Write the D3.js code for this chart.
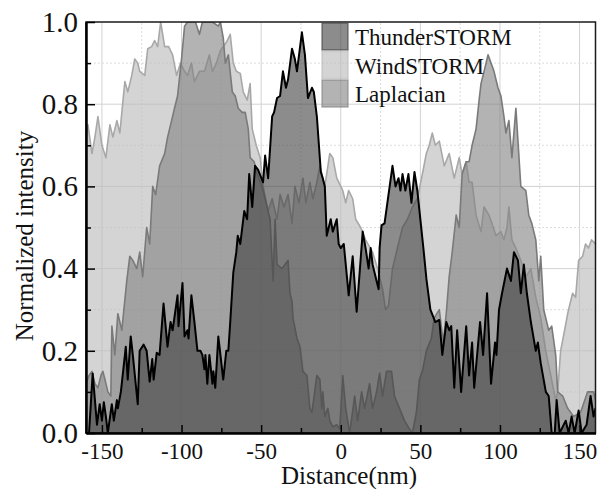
<!DOCTYPE html>
<html lang="en">
<head>
  <meta charset="UTF-8">
  <title>intensity-profile</title>
  <script src="https://cdn.jsdelivr.net/npm/d3@7"></script>
  <style>
    body { margin: 0; background: #fff; }
    text { font-family: "Liberation Serif", "Times New Roman", serif; fill: #111; }
  </style>
</head>
<body>
<script>
// values, [distance in nm, normalized intensity]
let thunderStorm = [[-160,0],[-158.1,0],[-155.8,0.145],[-153.1,0.02],[-151.4,0.07],[-150,0.03],[-148.8,0.075],[-147.5,0.04],[-146.3,0],[-143.8,0.07],[-142.5,0.03],[-140.6,0.08],[-140,0.06],[-138.1,0.1],[-135,0.21],[-133.8,0.13],[-131.9,0.235],[-130.6,0.19],[-127.5,0.07],[-126.3,0.2],[-123.8,0.215],[-121.9,0.2],[-120,0.125],[-118.4,0.18],[-117.5,0.13],[-115.6,0.195],[-113.8,0.19],[-111.3,0.315],[-108.8,0.21],[-106.9,0.27],[-105.6,0.25],[-102.5,0.335],[-101.9,0.26],[-99.4,0.365],[-98.1,0.235],[-96.3,0.25],[-95.6,0.23],[-93.8,0.335],[-91.9,0.27],[-90,0.2],[-88.1,0.2],[-86.9,0.19],[-85.6,0.155],[-85,0.19],[-83.8,0.12],[-82.5,0.19],[-80.6,0.12],[-80,0.15],[-78.8,0.11],[-76.9,0.235],[-73.8,0.13],[-71.9,0.2],[-70.6,0.2],[-69.4,0.27],[-67.5,0.39],[-65.6,0.44],[-64.7,0.48],[-63.1,0.46],[-60.6,0.54],[-58.8,0.52],[-57.5,0.63],[-55.6,0.55],[-53.8,0.65],[-51.9,0.64],[-48.8,0.61],[-47.5,0.675],[-45.6,0.62],[-43.1,0.77],[-41.9,0.78],[-40,0.815],[-38.1,0.82],[-36.3,0.88],[-34.4,0.84],[-33.1,0.86],[-30.6,0.935],[-28.8,0.91],[-27.5,0.88],[-24.4,0.975],[-22.5,0.92],[-20.6,0.815],[-18.1,0.84],[-16.9,0.83],[-15,0.77],[-12.5,0.635],[-11.3,0.62],[-10,0.6],[-8.8,0.48],[-6.3,0.52],[-5,0.49],[-2.5,0.52],[-1.3,0.46],[0,0.45],[1.9,0.46],[5,0.335],[7.5,0.43],[10,0.295],[13.8,0.49],[15.6,0.45],[17.5,0.4],[18.8,0.45],[20,0.41],[22.5,0.37],[23.8,0.35],[24.4,0.45],[25.6,0.505],[27.5,0.51],[30,0.58],[32.5,0.65],[34.4,0.6],[36.3,0.62],[37.5,0.59],[38.8,0.63],[40.6,0.59],[42.5,0.63],[44.4,0.56],[46.3,0.635],[48.1,0.59],[50,0.52],[51.9,0.45],[53.8,0.375],[56.3,0.3],[59.4,0.27],[61.9,0.275],[63.8,0.19],[66.3,0.27],[68.1,0.25],[69.4,0.26],[71.3,0.11],[73.1,0.25],[75.6,0.1],[78.8,0.26],[80.6,0.14],[82.5,0.22],[83.8,0.11],[87.5,0.27],[89.4,0.19],[91.9,0.34],[94.4,0.12],[96.9,0.22],[97.8,0.19],[99.4,0.3],[101.3,0.34],[104.4,0.4],[106.9,0.37],[108.8,0.44],[111.3,0.42],[113.1,0.34],[115,0.41],[116.9,0.34],[119.4,0.27],[122.5,0.2],[123.8,0.22],[125.6,0.17],[128.8,0.1],[130.6,0.09],[132.5,0],[134.4,0],[135.6,0.08],[137.5,0],[141.3,0.03],[143.1,0],[145,0.04],[146.9,0],[149.4,0.055],[151.3,0],[154.4,0.02],[156.9,0.09],[158.8,0.04],[160,0.06]];

let windStorm = [[-160,0.72],[-158.75,0.75],[-156.25,0.68],[-154.4,0.72],[-152.5,0.77],[-150,0.7],[-147.5,0.67],[-145,0.75],[-143.1,0.72],[-140.6,0.76],[-138.75,0.73],[-135.6,0.855],[-133.75,0.83],[-131.25,0.87],[-129.4,0.91],[-127.5,0.9],[-126.25,0.88],[-123.1,0.87],[-121.25,0.935],[-118.75,0.94],[-116.9,0.955],[-115,0.94],[-113.1,1],[-110.6,0.94],[-108.1,0.94],[-105.6,0.92],[-103.1,0.87],[-100.6,0.9],[-98.1,0.88],[-96.25,0.87],[-93.75,0.9],[-91.9,0.855],[-88.75,0.88],[-85.6,0.88],[-82.5,0.92],[-80.6,0.88],[-78.1,0.9],[-75.6,0.93],[-71.9,0.95],[-69.4,0.97],[-67.5,0.9],[-65.6,0.88],[-63.1,0.875],[-61.25,0.83],[-58.75,0.81],[-56.9,0.85],[-55.6,0.74],[-53.1,0.7],[-50.6,0.67],[-48.75,0.6],[-45.6,0.54],[-43.1,0.57],[-40,0.52],[-38.1,0.58],[-35.6,0.55],[-33.1,0.58],[-30.6,0.51],[-28.75,0.6],[-26.25,0.56],[-23.75,0.62],[-21.9,0.56],[-19.4,0.61],[-17.5,0.57],[-15,0.61],[-13.1,0.65],[-10,0.6],[-6.9,0.68],[-5,0.67],[-2.5,0.62],[0,0.6],[1.25,0.59],[3.1,0.56],[5,0.59],[7.5,0.57],[9.4,0.52],[12.5,0.5],[15.6,0.47],[20,0.44],[23.1,0.4],[26.25,0.35],[28.1,0.3],[30,0.31],[32.5,0.4],[35.6,0.45],[38.75,0.5],[41.9,0.52],[45,0.55],[48.1,0.57],[51.25,0.63],[53.75,0.68],[55.6,0.7],[57.5,0.73],[59.4,0.7],[61.9,0.71],[65,0.65],[68.1,0.68],[71.25,0.62],[74.4,0.67],[76.25,0.63],[78.75,0.66],[80.6,0.61],[82.5,0.61],[85,0.53],[88.1,0.49],[90,0.55],[93.1,0.53],[95,0.51],[97.5,0.48],[100.6,0.49],[102.5,0.47],[104.4,0.5],[105.6,0.55],[107.5,0.47],[110,0.45],[113.1,0.42],[116.25,0.38],[119.4,0.4],[122.5,0.33],[125.6,0.28],[128.75,0.2],[131.9,0.14],[135,0.08],[136.25,0.1],[138.1,0.2],[140.6,0.25],[142.5,0.29],[145.6,0.34],[147.5,0.33],[149.4,0.42],[151.9,0.43],[153.75,0.46],[155.6,0.45],[157.5,0.47],[160,0.46]];

let laplacian = [[-160,0.12],[-158.1,0.14],[-156.25,0.15],[-154.4,0.12],[-152.5,0.11],[-150.6,0.14],[-149.4,0.15],[-148.1,0.13],[-146.25,0.1],[-144.4,0.09],[-143.75,0.26],[-141.9,0.19],[-140,0.29],[-137.5,0.25],[-134.4,0.37],[-132.5,0.43],[-130.6,0.42],[-128.1,0.4],[-126.25,0.44],[-124.4,0.38],[-121.9,0.5],[-120,0.46],[-118.1,0.6],[-116.25,0.58],[-113.75,0.65],[-110.6,0.68],[-108.75,0.72],[-106.25,0.76],[-104.4,0.79],[-102.5,0.82],[-100,0.91],[-98.1,0.99],[-96.25,1],[-91.25,1],[-88.75,0.97],[-86.9,1],[-80.6,1],[-76.9,0.99],[-75.6,1],[-73.75,0.96],[-72.5,0.9],[-70.6,0.92],[-68.1,0.83],[-66.25,0.82],[-64.4,0.79],[-61.9,0.78],[-60,0.78],[-58.1,0.74],[-56.9,0.67],[-54.4,0.66],[-52.5,0.63],[-49.4,0.6],[-46.9,0.56],[-44.4,0.52],[-42.5,0.37],[-41.25,0.52],[-40,0.41],[-36.9,0.4],[-35,0.41],[-33.1,0.42],[-31.9,0.34],[-30.6,0.32],[-30,0.28],[-27.5,0.23],[-25.6,0.21],[-23.75,0.15],[-21.25,0.14],[-19.4,0.06],[-18.1,0.05],[-15,0.14],[-13.1,0.13],[-11.9,0.06],[-11.25,0.1],[-10,0.04],[-8.1,0.06],[-6.9,0.03],[-5,0.015],[-2.5,0.02],[-0.6,0.01],[1.25,0.14],[3.1,0.06],[5.6,0],[8.75,0.09],[10.6,0.03],[13.1,0.1],[15,0.06],[18.1,0.12],[20,0.06],[22.5,0.1],[24.4,0.145],[26.25,0.09],[28.75,0.15],[31.9,0.15],[33.75,0.09],[36.9,0.06],[40,0.03],[43.1,0.01],[45,0],[47.5,0.05],[49.4,0.13],[51.25,0.15],[53.75,0.2],[56.9,0.23],[58.75,0.28],[61.9,0.3],[64.4,0.22],[66.25,0.29],[68.1,0.38],[70,0.44],[72.5,0.53],[74.4,0.5],[76.25,0.63],[78.75,0.66],[80.6,0.66],[82.5,0.7],[85,0.74],[86.9,0.81],[88.1,0.85],[90,0.88],[92.5,0.92],[94.4,0.9],[96.25,0.88],[98.75,0.84],[100.6,0.82],[102.5,0.77],[103.75,0.73],[105.6,0.76],[107.5,0.67],[110,0.79],[113.1,0.6],[116.25,0.59],[118.1,0.53],[120,0.51],[122.5,0.47],[124.4,0.37],[125.6,0.43],[127.5,0.3],[130.6,0.25],[132.5,0.26],[135,0.19],[136.25,0.1],[139.4,0.09],[142.5,0.06],[146.25,0.04],[150.6,0.05],[155,0.1],[158.75,0.1],[160,0.08]];

let xTicks = [-150, -100, -50, 0, 50, 100, 150];
let xMinorTicks = [-125, -75, -25, 25, 75, 125];
let yTicks = [0, 0.2, 0.4, 0.6, 0.8, 1.0];
let yMinorTicks = [0.1, 0.3, 0.5, 0.7, 0.9];
let legendNames = ['ThunderSTORM', 'WindSTORM', 'Laplacian'];

let _width = 598;
let _height = 489;
let _margins = {top: 22, left: 86, right: 2.5, bottom: 56};

// back to front
let layers = [
  {name: 'WindSTORM', data: windStorm, fill: '#bdbdbd', opacity: 0.65, stroke: '#a8a8a8', strokeWidth: 1.6},
  {name: 'Laplacian', data: laplacian, fill: '#808080', opacity: 0.6, stroke: '#7a7a7a', strokeWidth: 1.6},
  {name: 'ThunderSTORM', data: thunderStorm, fill: '#404040', opacity: 0.6, stroke: '#000', strokeWidth: 2}
];

let x = d3.scaleLinear().domain([-160, 160]).range([_margins.left, _width - _margins.right]);
let y = d3.scaleLinear().domain([0, 1]).range([_height - _margins.bottom, _margins.top]);

let svg = d3.select('body').append('svg')
  .attr('width', _width)
  .attr('height', _height);

svg.append('defs').append('clipPath')
  .attr('id', 'body-clip')
  .append('rect')
  .attr('x', x.range()[0])
  .attr('y', y.range()[1])
  .attr('width', x.range()[1] - x.range()[0])
  .attr('height', y.range()[0] - y.range()[1]);

// grid
let gridG = svg.append('g').attr('class', 'grid');
gridG.selectAll('line.major-x').data(xTicks).enter().append('line')
  .attr('x1', d => x(d)).attr('x2', d => x(d))
  .attr('y1', y(0)).attr('y2', y(1))
  .attr('stroke', '#d2d2d2').attr('stroke-width', 1);
gridG.selectAll('line.major-y').data(yTicks.slice(1, -1)).enter().append('line')
  .attr('x1', x(-160)).attr('x2', x(160))
  .attr('y1', d => y(d)).attr('y2', d => y(d))
  .attr('stroke', '#d2d2d2').attr('stroke-width', 1);
gridG.selectAll('line.minor-x').data(xMinorTicks).enter().append('line')
  .attr('x1', d => x(d)).attr('x2', d => x(d))
  .attr('y1', y(0)).attr('y2', y(1))
  .attr('stroke', '#dcdcdc').attr('stroke-dasharray', '2,2');
gridG.selectAll('line.minor-y').data(yMinorTicks).enter().append('line')
  .attr('x1', x(-160)).attr('x2', x(160))
  .attr('y1', d => y(d)).attr('y2', d => y(d))
  .attr('stroke', '#dcdcdc').attr('stroke-dasharray', '2,2');

// profiles
let area = d3.area()
  .x(d => x(d[0]))
  .y0(y(0))
  .y1(d => y(d[1]));
let line = d3.line()
  .x(d => x(d[0]))
  .y(d => y(d[1]));

let bodyG = svg.append('g')
  .attr('class', 'body')
  .attr('clip-path', 'url(#body-clip)');

layers.forEach(function (s) {
  bodyG.append('path')
    .datum(s.data)
    .attr('d', area)
    .attr('fill', s.fill)
    .attr('fill-opacity', s.opacity);
  bodyG.append('path')
    .datum(s.data)
    .attr('d', line)
    .attr('fill', 'none')
    .attr('stroke', s.stroke)
    .attr('stroke-width', s.strokeWidth)
    .attr('stroke-linejoin', 'round');
});

// frame
svg.append('rect')
  .attr('x', x.range()[0])
  .attr('y', y.range()[1])
  .attr('width', x.range()[1] - x.range()[0])
  .attr('height', y.range()[0] - y.range()[1])
  .attr('fill', 'none')
  .attr('stroke', '#1a1a1a')
  .attr('stroke-width', 1.5);

// axes
let xAxis = d3.axisBottom(x).tickValues(xTicks).tickSize(-8).tickSizeOuter(0)
  .tickPadding(10).tickFormat(d => String(d));
let xMinor = d3.axisBottom(x).tickValues(xMinorTicks).tickSize(-5).tickSizeOuter(0).tickFormat('');
let yAxis = d3.axisLeft(y).tickValues(yTicks).tickSize(-9).tickSizeOuter(0)
  .tickPadding(8).tickFormat(d3.format('.1f'));
let yMinor = d3.axisLeft(y).tickValues(yMinorTicks).tickSize(-5).tickSizeOuter(0).tickFormat('');

function styleAxis(g, size) {
  g.selectAll('path.domain').attr('stroke', '#000').attr('stroke-width', 2);
  g.selectAll('line').attr('stroke', '#000').attr('stroke-width', 1.5);
  g.selectAll('text')
    .attr('font-family', '"Liberation Serif", "Times New Roman", serif')
    .attr('font-size', size)
    .attr('fill', '#111');
}

svg.append('g').attr('transform', 'translate(0,' + y(0) + ')').call(xMinor).call(styleAxis, 23);
svg.append('g').attr('transform', 'translate(0,' + y(0) + ')').call(xAxis).call(styleAxis, 23);
svg.append('g').attr('transform', 'translate(' + x(-160) + ',0)').call(yMinor).call(styleAxis, 29);
svg.append('g').attr('transform', 'translate(' + x(-160) + ',0)').call(yAxis).call(styleAxis, 29);

svg.append('text')
  .attr('x', 349)
  .attr('y', 484)
  .attr('text-anchor', 'middle')
  .attr('font-size', 25)
  .text('Distance(nm)');

svg.append('text')
  .attr('transform', 'translate(33,236) rotate(-90)')
  .attr('text-anchor', 'middle')
  .attr('font-size', 25)
  .text('Normalized intensity');

// legend
let legendG = svg.append('g').attr('class', 'legend');
legendNames.forEach(function (name, i) {
  let s = layers.find(l => l.name === name);
  let top = 23 + i * 28.5;
  legendG.append('rect')
    .attr('x', 322)
    .attr('y', top)
    .attr('width', 26)
    .attr('height', 27)
    .attr('fill', s.fill)
    .attr('fill-opacity', s.opacity)
    .attr('stroke', s.fill)
    .attr('stroke-opacity', s.opacity)
    .attr('stroke-width', 1.5);
  legendG.append('text')
    .attr('x', 355)
    .attr('y', top + 22)
    .attr('font-size', 23)
    .text(name);
});
</script>
</body>
</html>
